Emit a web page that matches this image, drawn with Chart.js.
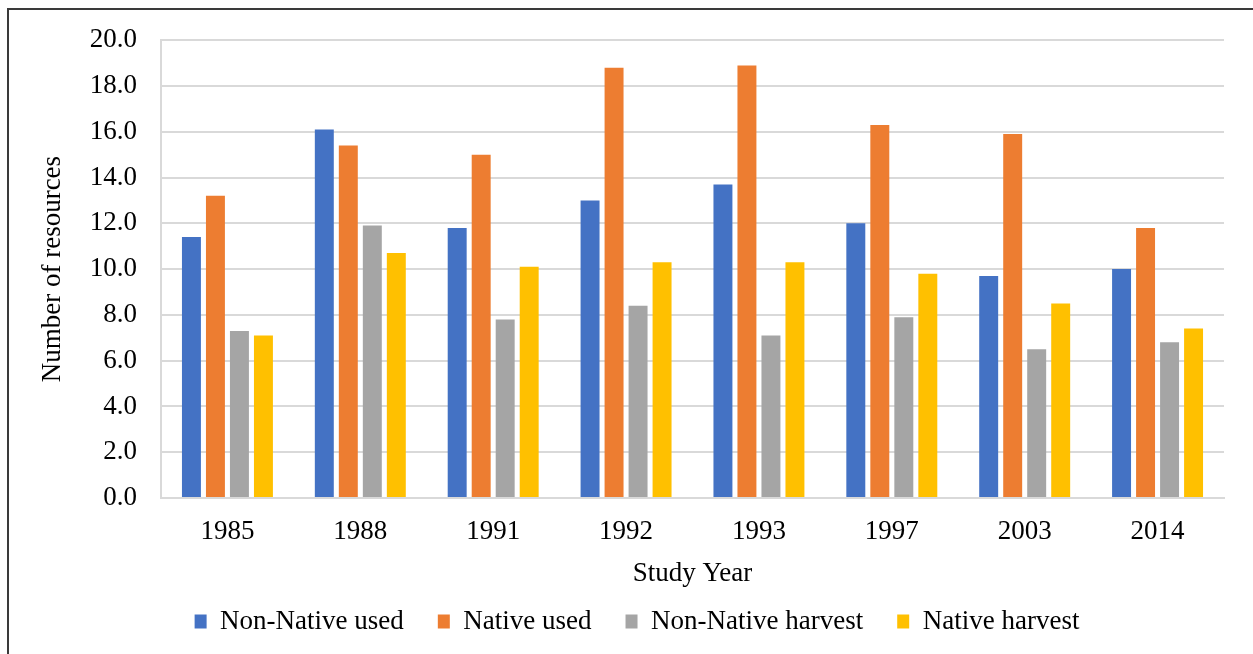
<!DOCTYPE html>
<html>
<head>
<meta charset="utf-8">
<script src="https://cdn.jsdelivr.net/npm/chart.js@4"></script>
<style>
  html, body { margin: 0; padding: 0; background: #fff; overflow: hidden; }
  #frame { position: absolute; left: 7px; top: 8px; width: 1300px; height: 700px; border: 2px solid #3a3a3a; }
  #chart { position: absolute; left: 0; top: 0; }
</style>
</head>
<body>
<div id="frame"></div>
<canvas id="chart" width="1253" height="654"></canvas>
<script>
const years = ['1985', '1988', '1991', '1992', '1993', '1997', '2003', '2014'];
const nonNativeUsed = [11.4, 16.1, 11.8, 13.0, 13.7, 12.0, 9.7, 10.0];
const nativeUsed = [13.2, 15.4, 15.0, 18.8, 18.9, 16.3, 15.9, 11.8];
const nonNativeHarvest = [7.3, 11.9, 7.8, 8.4, 7.1, 7.9, 6.5, 6.8];
const nativeHarvest = [7.1, 10.7, 10.1, 10.3, 10.3, 9.8, 8.5, 7.4];
const yMin = 0, yMax = 20, yStep = 2;

const serif = "'Liberation Serif', 'Times New Roman', serif";
const gridGrey = '#d9d9d9';

// squeeze the legend box during layout, then put it where the original sits
const legendPlace = {
  id: 'legendPlace',
  beforeLayout(chart) {
    const lg = chart.legend;
    if (lg && !lg._squeezed) {
      const fit = lg.fit;
      lg.fit = function () { fit.call(this); this.height = 40; };
      lg._squeezed = true;
    }
  },
  afterLayout(chart) {
    const lg = chart.legend;
    lg.left += 10;
    lg.right += 10;
    lg.top = 574;
    lg.bottom = chart.height;
    lg.height = lg.bottom - lg.top;
  }
};

new Chart(document.getElementById('chart'), {
  type: 'bar',
  data: {
    labels: years,
    datasets: [
      { label: 'Non-Native used', data: nonNativeUsed, backgroundColor: '#4472C4' },
      { label: 'Native used', data: nativeUsed, backgroundColor: '#ED7D31' },
      { label: 'Non-Native harvest', data: nonNativeHarvest, backgroundColor: '#A5A5A5' },
      { label: 'Native harvest', data: nativeHarvest, backgroundColor: '#FFC000' }
    ]
  },
  options: {
    responsive: false,
    animation: false,
    devicePixelRatio: 1,
    categoryPercentage: 0.7225,
    barPercentage: 0.79,
    layout: { padding: { left: 30, right: 29, top: 39, bottom: 0 } },
    scales: {
      x: {
        grid: { display: false },
        border: { display: true, color: gridGrey, width: 2 },
        ticks: { color: '#000', font: { family: serif, size: 27 }, padding: 10 },
        title: {
          display: true, text: 'Study Year', color: '#000',
          font: { family: serif, size: 27 }, padding: { top: 0, bottom: 24 }
        },
        afterFit(scale) { scale.height = 116; }
      },
      y: {
        min: yMin,
        max: yMax,
        grid: { color: gridGrey, lineWidth: 2, drawTicks: false },
        border: { display: true, color: gridGrey, width: 2 },
        ticks: {
          stepSize: yStep, color: '#000', padding: 24,
          font: { family: serif, size: 27 },
          callback: v => Number(v).toFixed(1)
        },
        title: {
          display: true, text: 'Number of resources', color: '#000',
          font: { family: serif, size: 27 }, padding: { top: 7, bottom: 0 }
        },
        afterFit(scale) { scale.width = 131; }
      }
    },
    plugins: {
      legend: {
        position: 'bottom',
        labels: {
          color: '#000', boxWidth: 12, boxHeight: 14, padding: 34,
          font: { family: serif, size: 27 }
        }
      },
      tooltip: { enabled: false }
    }
  },
  plugins: [legendPlace]
});
</script>
</body>
</html>
